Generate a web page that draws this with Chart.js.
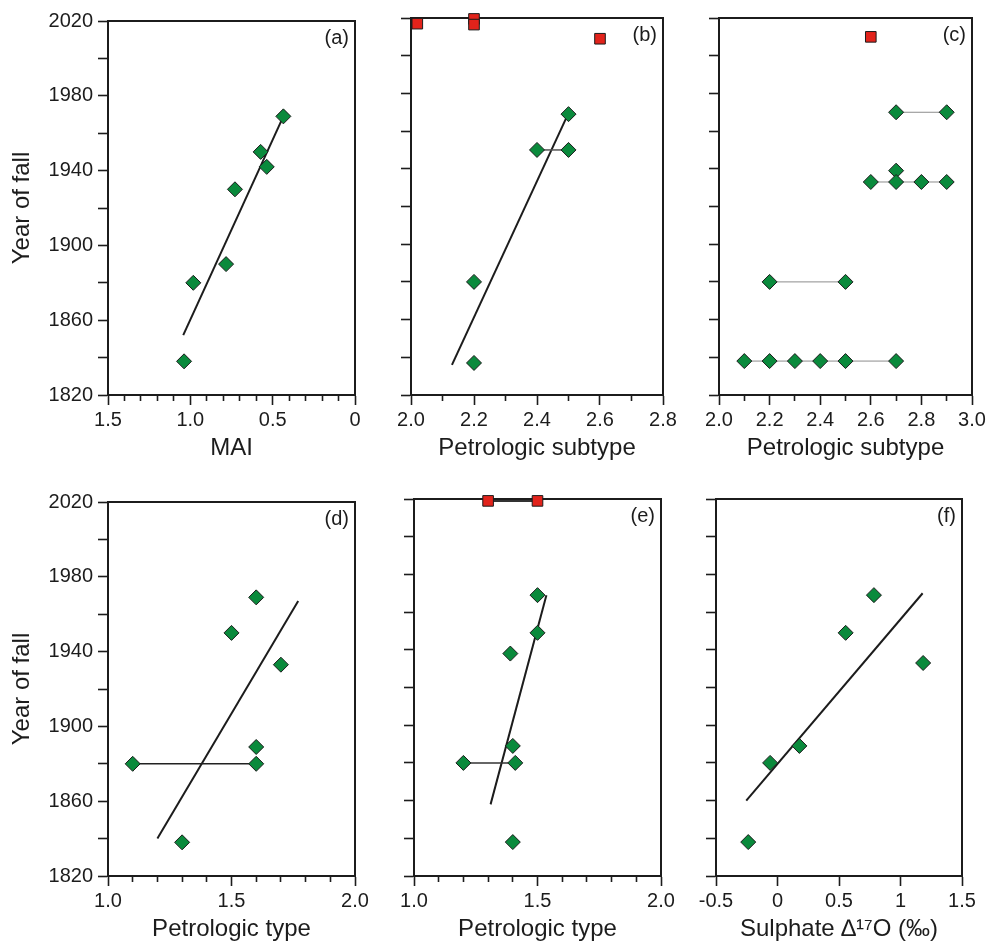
<!doctype html>
<html lang="en">
<head>
<meta charset="utf-8">
<title>Year of fall</title>
<script src="https://cdn.jsdelivr.net/npm/chart.js@4.4.1/dist/chart.umd.min.js"></script>
<style>
  * { margin: 0; padding: 0; }
  body { width: 991px; height: 948px; background: #fff; position: relative; overflow: hidden; }
  canvas { position: absolute; }
</style>
</head>
<body>
<script>
// values
const yearLabels = ['1820', '1860', '1900', '1940', '1980', '2020'];

// (a) MAI
const maiValue = [0.435, 0.573, 0.536, 0.729, 0.783, 0.982, 1.038];
const maiYear = [1969, 1950, 1942, 1930, 1890, 1880, 1838];
const maiFitValue = [1.043, 0.435];
const maiFitYear = [1852, 1969];
const maiLabels = ['0', '0.5', '1.0', '1.5'];

// (b) petrologic subtype
const subBValue = [2.5, 2.4, 2.5, 2.2, 2.2];
const subBYear = [1969, 1950, 1950, 1880, 1837];
const subBRecentValue = [2.02, 2.2, 2.2, 2.6];
const subBRecentYear = [2017, 2019.5, 2016.5, 2009];
const subBLinkValue = [2.4, 2.5];
const subBLinkYear = [1950, 1950];
const subBFitValue = [2.13, 2.493];
const subBFitYear = [1836, 1967];
const subBLabels = ['2.0', '2.2', '2.4', '2.6', '2.8'];

// (c) petrologic subtype ranges
const subCValue = [2.7, 2.9, 2.7, 2.6, 2.7, 2.8, 2.9, 2.2, 2.5, 2.1, 2.2, 2.3, 2.4, 2.5, 2.7];
const subCYear = [1970, 1970, 1939, 1933, 1933, 1933, 1933, 1880, 1880, 1838, 1838, 1838, 1838, 1838, 1838];
const subCRecentValue = [2.6];
const subCRecentYear = [2010];
const subCRangeYear = [1970, 1933, 1880, 1838];
const subCRangeFrom = [2.7, 2.6, 2.2, 2.1];
const subCRangeTo = [2.9, 2.9, 2.5, 2.7];
const subCLabels = ['2.0', '2.2', '2.4', '2.6', '2.8', '3.0'];

// (d) petrologic type
const typeDValue = [1.6, 1.5, 1.7, 1.6, 1.6, 1.1, 1.3];
const typeDYear = [1969, 1950, 1933, 1889, 1880, 1880, 1838];
const typeDLinkValue = [1.1, 1.6];
const typeDLinkYear = [1880, 1880];
const typeDFitValue = [1.2, 1.77];
const typeDFitYear = [1840, 1967];

// (e) petrologic type
const typeEValue = [1.5, 1.5, 1.39, 1.4, 1.41, 1.2, 1.4];
const typeEYear = [1969, 1949, 1938, 1889, 1880, 1880, 1838];
const typeERecentValue = [1.3, 1.5];
const typeERecentYear = [2019, 2019];
const typeELinkValue = [1.2, 1.41];
const typeELinkYear = [1880, 1880];
const typeEFitValue = [1.31, 1.536];
const typeEFitYear = [1858, 1969];
const typeLabels = ['1.0', '1.5', '2.0'];

// (f) sulphate D17O
const d17oValue = [0.784, 0.554, 1.184, 0.178, -0.06, -0.238];
const d17oYear = [1969, 1949, 1933, 1889, 1880, 1838];
const d17oFitValue = [-0.254, 1.18];
const d17oFitYear = [1860, 1970];
const d17oLabels = ['-0.5', '0', '0.5', '1', '1.5'];

const GREEN = '#0a8a3c';
const RED = '#e2231b';
const INK = '#1c1c1c';
const FONT = "'Liberation Sans', Arial, Helvetica, sans-serif";

function zip(xs, ys) { return xs.map((x, i) => ({ x: x, y: ys[i] })); }
function labelFor(labels, v) {
  const hit = labels.find(l => Math.abs(Number(l) - v) < 1e-6);
  return hit === undefined ? '' : hit;
}

function diamonds(xs, ys) {
  return { data: zip(xs, ys), pointStyle: 'rectRot', pointRadius: 7.5, pointHoverRadius: 7.5,
    backgroundColor: GREEN, borderColor: INK, borderWidth: 1, showLine: false, clip: false, order: 0 };
}
function squares(xs, ys) {
  return { data: zip(xs, ys), pointStyle: 'rect', pointRadius: 7.5, pointHoverRadius: 7.5,
    backgroundColor: RED, borderColor: INK, borderWidth: 1, showLine: false, clip: false, order: 0 };
}
function segment(xs, ys, color, width) {
  return { data: zip(xs, ys), showLine: true, pointRadius: 0, pointHoverRadius: 0,
    borderColor: color, borderWidth: width, fill: false, clip: false, order: 1 };
}

// draws the top/right frame and the panel tag
const framePlugin = {
  id: 'frame',
  beforeDatasetsDraw(chart, args, opts) {
    const a = chart.chartArea, ctx = chart.ctx;
    ctx.save();
    ctx.strokeStyle = INK;
    ctx.lineWidth = 2;
    ctx.strokeRect(a.left, a.top, a.right - a.left, a.bottom - a.top);
    ctx.fillStyle = INK;
    ctx.font = '20px ' + FONT;
    ctx.textAlign = 'right';
    ctx.textBaseline = 'middle';
    ctx.fillText(opts.tag, a.right - 6, a.top + 17);
    ctx.restore();
  }
};

const panels = [
  { tag: '(a)', box: { l: 108, r: 355, t: 18, b: 395 }, yText: true,
    x: { min: 0, max: 1.5, step: 0.1, reverse: true, labels: maiLabels, title: 'MAI' },
    datasets: [diamonds(maiValue, maiYear), segment(maiFitValue, maiFitYear, INK, 2)] },
  { tag: '(b)', box: { l: 411, r: 663, t: 18, b: 395 }, yText: false,
    x: { min: 2.0, max: 2.8, step: 0.1, labels: subBLabels, title: 'Petrologic subtype' },
    datasets: [diamonds(subBValue, subBYear), squares(subBRecentValue, subBRecentYear),
      segment(subBLinkValue, subBLinkYear, '#555', 1.5), segment(subBFitValue, subBFitYear, INK, 2)] },
  { tag: '(c)', box: { l: 719, r: 972, t: 18, b: 395 }, yText: false,
    x: { min: 2.0, max: 3.0, step: 0.1, labels: subCLabels, title: 'Petrologic subtype' },
    datasets: [diamonds(subCValue, subCYear), squares(subCRecentValue, subCRecentYear)]
      .concat(subCRangeYear.map((yr, i) => segment([subCRangeFrom[i], subCRangeTo[i]], [yr, yr], '#8c8c8c', 1))) },
  { tag: '(d)', box: { l: 108, r: 355, t: 499, b: 876 }, yText: true,
    x: { min: 1.0, max: 2.0, step: 0.1, labels: typeLabels, title: 'Petrologic type' },
    datasets: [diamonds(typeDValue, typeDYear), segment(typeDLinkValue, typeDLinkYear, '#222', 1.5),
      segment(typeDFitValue, typeDFitYear, INK, 2)] },
  { tag: '(e)', box: { l: 414, r: 661, t: 499, b: 876 }, yText: false,
    x: { min: 1.0, max: 2.0, step: 0.1, labels: typeLabels, title: 'Petrologic type' },
    datasets: [diamonds(typeEValue, typeEYear), squares(typeERecentValue, typeERecentYear),
      segment(typeERecentValue, typeERecentYear, '#333', 2), segment(typeELinkValue, typeELinkYear, '#333', 1.5),
      segment(typeEFitValue, typeEFitYear, INK, 2)] },
  { tag: '(f)', box: { l: 716, r: 962, t: 499, b: 876 }, yText: false,
    x: { min: -0.5, max: 1.5, step: 0.5, labels: d17oLabels, title: 'Sulphate \u2206\u00b9\u2077O (\u2030)' },
    datasets: [diamonds(d17oValue, d17oYear), segment(d17oFitValue, d17oFitYear, INK, 2)] }
];

panels.forEach(p => {
  const yW = p.yText ? 108 : 11;
  const padL = p.yText ? 0 : 40;
  const padR = 40, padT = 14, xH = 68;
  const w = padL + yW + (p.box.r - p.box.l) + padR;
  const h = padT + (p.box.b - p.box.t) + xH;
  const canvas = document.createElement('canvas');
  canvas.width = w;
  canvas.height = h;
  canvas.style.left = (p.box.l - yW - padL) + 'px';
  canvas.style.top = (p.box.t - padT) + 'px';
  canvas.style.width = w + 'px';
  canvas.style.height = h + 'px';
  document.body.appendChild(canvas);

  new Chart(canvas, {
    type: 'scatter',
    data: { datasets: p.datasets },
    plugins: [framePlugin],
    options: {
      responsive: false,
      animation: false,
      events: [],
      layout: { autoPadding: false, padding: { left: padL, right: padR, top: padT, bottom: 0 } },
      plugins: { legend: { display: false }, tooltip: { enabled: false }, frame: { tag: p.tag } },
      scales: {
        x: {
          type: 'linear', position: 'bottom', min: p.x.min, max: p.x.max, reverse: !!p.x.reverse,
          ticks: { stepSize: p.x.step, autoSkip: false, maxRotation: 0, padding: 3, color: INK,
            font: { family: FONT, size: 20 }, callback: v => labelFor(p.x.labels, v) },
          grid: { drawOnChartArea: false, tickLength: 10, tickWidth: 1.6, tickColor: INK,
            tickBorderDash: ctx => labelFor(p.x.labels, ctx.tick.value) ? [] : [5, 30] },
          border: { color: INK, width: 2 },
          title: { display: true, text: p.x.title, color: INK, font: { family: FONT, size: 24 },
            padding: { top: 0, bottom: 0 } },
          afterFit: s => { s.height = xH; }
        },
        y: {
          type: 'linear', position: 'left', min: 1820, max: 2020,
          ticks: { stepSize: 20, autoSkip: false, display: p.yText, padding: 5, color: INK,
            font: { family: FONT, size: 20 }, callback: v => labelFor(yearLabels, v) },
          grid: { drawOnChartArea: false, tickLength: 10, tickWidth: 1.6, tickColor: INK },
          border: { color: INK, width: 2 },
          title: { display: p.yText, text: 'Year of fall', color: INK, font: { family: FONT, size: 24 },
            padding: { top: 8, bottom: 0 } },
          afterFit: s => { s.width = yW; }
        }
      }
    }
  });
});
</script>
</body>
</html>
